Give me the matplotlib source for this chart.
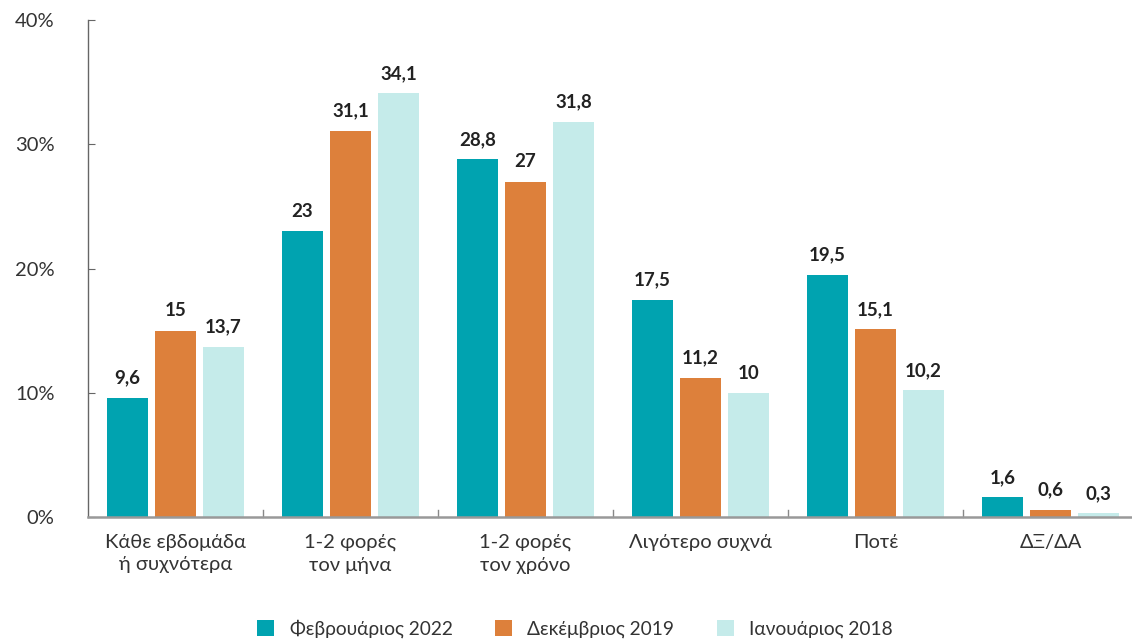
import numpy as np
import matplotlib.pyplot as plt

plt.rcParams['font.family'] = ['Lato', 'DejaVu Sans']

categories = ['Κάθε εβδομάδα\nή συχνότερα', '1-2 φορές\nτον μήνα', '1-2 φορές\nτον χρόνο',
              'Λιγότερο συχνά', 'Ποτέ', 'ΔΞ/ΔΑ']
series = ['Φεβρουάριος 2022', 'Δεκέμβριος 2019', 'Ιανουάριος 2018']
feb2022 = [9.6, 23, 28.8, 17.5, 19.5, 1.6]
dec2019 = [15, 31.1, 27, 11.2, 15.1, 0.6]
jan2018 = [13.7, 34.1, 31.8, 10, 10.2, 0.3]
colors = ['#00A3B0', '#DD803B', '#C5EBEA']

W, H = 1132, 642
fig = plt.figure(figsize=(W / 100, H / 100), dpi=100)
ax = fig.add_axes([88 / W, 1 - 517 / H, (W - 88) / W, (517 - 20) / H])

x = np.arange(len(categories))
step = 0.274
width = 0.236

def fmt(v):
    s = ('%.1f' % v).rstrip('0').rstrip('.')
    return s.replace('.', ',')

for i, (vals, c, name) in enumerate(zip([feb2022, dec2019, jan2018], colors, series)):
    pos = x + (i - 1) * step
    ax.bar(pos, vals, width, color=c, label=name)
    for p, v in zip(pos, vals):
        ax.text(p, v + 0.9, fmt(v), ha='center', va='bottom', fontsize=13.5,
                fontweight='bold', color='#222222')

ax.set_ylim(0, 40)
ax.set_xlim(-0.5, -0.5 + (W - 88) / 175)
ax.set_yticks([0, 10, 20, 30, 40])
ax.set_yticklabels(['0%', '10%', '20%', '30%', '40%'], fontsize=14.5, color='#333333')
ax.tick_params(axis='y', direction='in', length=5, color='#666666', pad=24)

ax.set_xticks(x)
ax.set_xticklabels(categories, fontsize=14.5, color='#333333', linespacing=1.4)
ax.tick_params(axis='x', length=0, pad=12)
for b in x[1:] - 0.5:
    ax.plot([b, b], [0, 0.6], color='#888888', lw=1, clip_on=False)

for s in ['top', 'right']:
    ax.spines[s].set_visible(False)
ax.spines['left'].set_color('#666666')
ax.spines['left'].set_linewidth(1)
ax.spines['bottom'].set_color('#999999')
ax.spines['bottom'].set_linewidth(1.8)

fig.legend(loc='center', bbox_to_anchor=(575 / W, 1 - 629 / H), ncol=3, frameon=False,
           fontsize=13.8, handlelength=0.9, handleheight=0.9, columnspacing=2.2,
           labelcolor='#333333')

fig.savefig('out.png', dpi=100)
